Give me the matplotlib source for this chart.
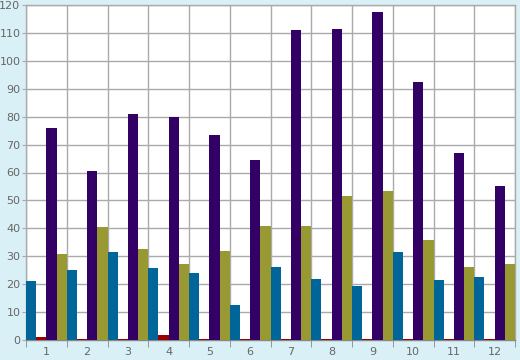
import matplotlib.pyplot as plt
import numpy as np

# values
groups = [str(i) for i in range(1, 13)]
blue_vals = [21.1, 25.0, 31.5, 25.8, 24.0, 12.5, 26.2, 21.9, 19.4, 31.5, 21.5, 22.6]
red_vals = [1.1, 0.3, 0.3, 1.8, 0.3, 0.3, 0.3, 0.3, 0.3, 0.3, 0.3, 0.3]
purple_vals = [76.0, 60.5, 81.0, 80.0, 73.5, 64.5, 111.0, 111.4, 117.5, 92.4, 67.0, 55.0]
olive_vals = [30.8, 40.5, 32.6, 27.2, 31.9, 41.0, 41.0, 51.5, 53.2, 36.0, 26.2, 27.2]

series = [blue_vals, red_vals, purple_vals, olive_vals]
colors = ['#006699', '#990000', '#330066', '#999933']

fig = plt.figure(figsize=(5.2, 3.6), dpi=100)
fig.patch.set_facecolor('#DAF0F7')
ax = fig.add_axes([26/520, 20/360, 489/520, 335/360])
ax.set_facecolor('white')

x = np.arange(1, len(groups) + 1)
w = 0.25
for k, (vals, c) in enumerate(zip(series, colors)):
    ax.bar(x - 0.375 + k * w, vals, w, color=c, linewidth=0, zorder=3)

ax.set_xlim(0.5, 12.5)
ax.set_ylim(0, 120)
ax.set_yticks(np.arange(0, 121, 10))
ax.set_xticks(x)
ax.set_xticklabels(groups)
ax.set_xticks(np.arange(0.5, 12.6, 1), minor=True)

grid_c = '#AAAAAA'
ax.grid(True, axis='y', color=grid_c, linewidth=1, zorder=1)
ax.grid(True, axis='x', which='minor', color=grid_c, linewidth=1, zorder=1)
ax.tick_params(axis='x', which='major', length=0, pad=5, labelsize=8, labelcolor='#666666')
ax.tick_params(axis='x', which='minor', length=5, color='#888888')
ax.tick_params(axis='y', length=3, color=grid_c, pad=1, labelsize=8, labelcolor='#666666')
for s in ax.spines.values():
    s.set_color(grid_c)
    s.set_linewidth(1)
ax.spines['bottom'].set_color('#888888')

plt.savefig('out.png', dpi=100, facecolor=fig.get_facecolor())
